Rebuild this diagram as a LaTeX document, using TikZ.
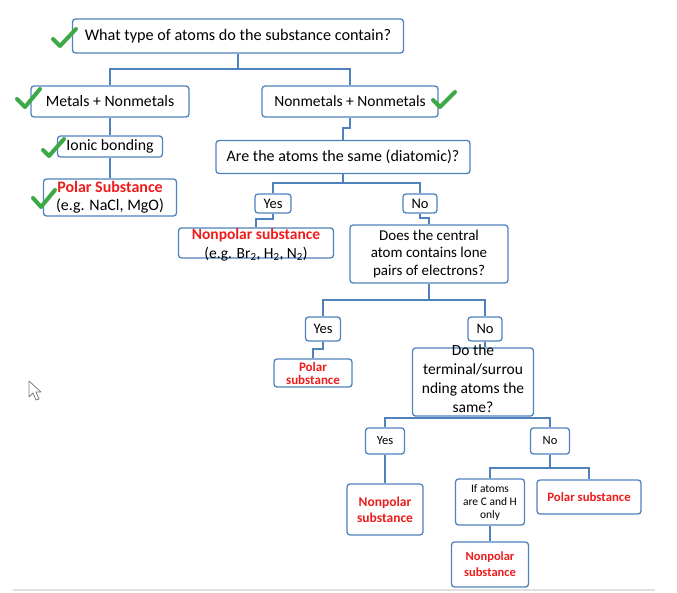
\documentclass[tikz,border=0pt]{standalone}
\usepackage{fontspec}
\setmainfont{Carlito}
\definecolor{bblue}{RGB}{79,129,189}
\definecolor{cred}{RGB}{238,28,28}
\definecolor{cgreen}{RGB}{60,168,70}
\newcommand{\fsz}[2]{\fontsize{#1}{#2}\selectfont}
\begin{document}
\begin{tikzpicture}[x=1pt,y=-1pt,
  box/.style={draw=bblue,line width=1.3pt,rounded corners=3pt,inner sep=0pt,align=center},
  ln/.style={draw=bblue,line width=1.3pt},
  tx/.style={inner sep=0pt,align=center},
  chk/.style={draw=cgreen,line width=4pt,line cap=round,line join=round}]
\useasboundingbox (0,0) rectangle (677,593);
% boxes
\node[box,minimum width=331,minimum height=34,font=\fsz{16.2}{19}] (q1) at (238,36) {What type of atoms do the substance contain?};
\node[box,minimum width=158,minimum height=31,font=\fsz{15.8}{18}] (mn) at (110,101.5) {Metals + Nonmetals};
\node[box,minimum width=176,minimum height=31,font=\fsz{15.5}{18}] (nn) at (350,101.5) {Nonmetals + Nonmetals};
\node[box,minimum width=105,minimum height=21,font=\fsz{15.8}{18}] (ib) at (110,146.5) {Ionic bonding};
\node[box,minimum width=133,minimum height=37,font=\fsz{16}{18}] (ps) at (110,197.5) {{\color{cred}\bfseries Polar Substance}\\(e.g. NaCl, MgO)};
\node[box,minimum width=254,minimum height=33,font=\fsz{16}{19}] (q2) at (343,157) {Are the atoms the same (diatomic)?};
\node[box,minimum width=36,minimum height=19,font=\fsz{14.5}{16}] (y1) at (273,203.5) {Yes};
\node[box,minimum width=34,minimum height=19,font=\fsz{14.5}{16}] (n1) at (420,203.5) {No};
\node[box,minimum width=155,minimum height=30] (np1) at (256,243) {};
\node[tx,font=\fsz{15.5}{19}] (np1t) at (256,245) {{\color{cred}\bfseries Nonpolar substance}\\(e.g. Br\textsubscript{2}, H\textsubscript{2}, N\textsubscript{2})};
\node[box,minimum width=158,minimum height=58,font=\fsz{15}{17.5}] (dc) at (429,254) {Does the central\\atom contains lone\\pairs of electrons?};
\node[box,minimum width=35,minimum height=24,font=\fsz{14.5}{16}] (y2) at (323,329) {Yes};
\node[box,minimum width=34,minimum height=24,font=\fsz{14.5}{16}] (n2) at (485,329) {No};
\node[box,minimum width=78,minimum height=28,font=\fsz{13}{13}] (ps2) at (313,373) {\color{cred}\bfseries Polar\\\color{cred}\bfseries substance};
\node[box,minimum width=121,minimum height=68] (dt) at (473,382) {};
\node[tx,font=\fsz{15.5}{19}] (dtt) at (473,379) {Do the\\terminal/surrou\\nding atoms the\\same?};
\node[box,minimum width=39,minimum height=26,font=\fsz{12.5}{14}] (y3) at (385,441) {Yes};
\node[box,minimum width=39,minimum height=26,font=\fsz{12.5}{14}] (n3) at (550,441) {No};
\node[box,minimum width=76,minimum height=51,font=\fsz{13.5}{16}] (np2) at (385,509.5) {\color{cred}\bfseries Nonpolar\\\color{cred}\bfseries substance};
\node[box,minimum width=69,minimum height=46,font=\fsz{11.5}{13}] (ia) at (490,502) {If atoms\\are C and H\\only};
\node[box,minimum width=104,minimum height=34,font=\fsz{12.8}{14}] (ps3) at (589,497) {\color{cred}\bfseries Polar substance};
\node[box,minimum width=77,minimum height=45,font=\fsz{12.5}{16}] (np3) at (490,564.5) {\color{cred}\bfseries Nonpolar\\\color{cred}\bfseries substance};
% junctions
\coordinate (j1) at (238,69);
\coordinate (j2) at (343,128);
\coordinate (j3) at (343,183);
\coordinate (j4) at (256,219);
\coordinate (j5) at (429,218);
\coordinate (j6) at (429,300);
\coordinate (j7) at (313,349);
\coordinate (j8) at (473,418);
\coordinate (j9) at (550,468);
% connectors
\draw[ln] (q1.south) -- (j1);
\draw[ln] (mn.north) |- (j1) -| (nn.north);
\draw[ln] (mn.south) -- (ib.north);
\draw[ln] (ib.south) -- (ps.north);
\draw[ln] (nn.south) |- (j2) -- (q2.north);
\draw[ln] (q2.south) -- (j3);
\draw[ln] (y1.north) |- (j3) -| (n1.north);
\draw[ln] (y1.south) |- (j4) -- (np1.north);
\draw[ln] (n1.south) |- (j5) -- (dc.north);
\draw[ln] (dc.south) -- (j6);
\draw[ln] (y2.north) |- (j6) -| (n2.north);
\draw[ln] (y2.south) |- (j7) -- (ps2.north);
\draw[ln] (n2.south) -- (n2.south |- dt.north);
\draw[ln] (dt.south) -- (j8);
\draw[ln] (y3.north) |- (j8) -| (n3.north);
\draw[ln] (y3.south) -- (np2.north);
\draw[ln] (n3.south) -- (j9);
\draw[ln] (ia.north) |- (j9) -| (ps3.north);
\draw[ln] (ia.south) -- (np3.north);
% check marks
\draw[chk] (53,39) -- (60,46) -- (76,29);
\draw[chk] (17,99) -- (25,107) -- (40,89);
\draw[chk] (433,100) -- (440,107) -- (455,92);
\draw[chk] (43,150) -- (49,156) -- (64,139);
\draw[chk] (33,198) -- (41,207) -- (55,190);
% cursor
\draw[gray,line width=0.8pt,fill=white,line join=round] (29,381) -- (29,397) -- (33,393) -- (36,400) -- (39,399) -- (36,392) -- (41,392) -- cycle;
% bottom edge
\draw[black!12,line width=2pt] (13,590) -- (655,590);
\end{tikzpicture}
\end{document}
